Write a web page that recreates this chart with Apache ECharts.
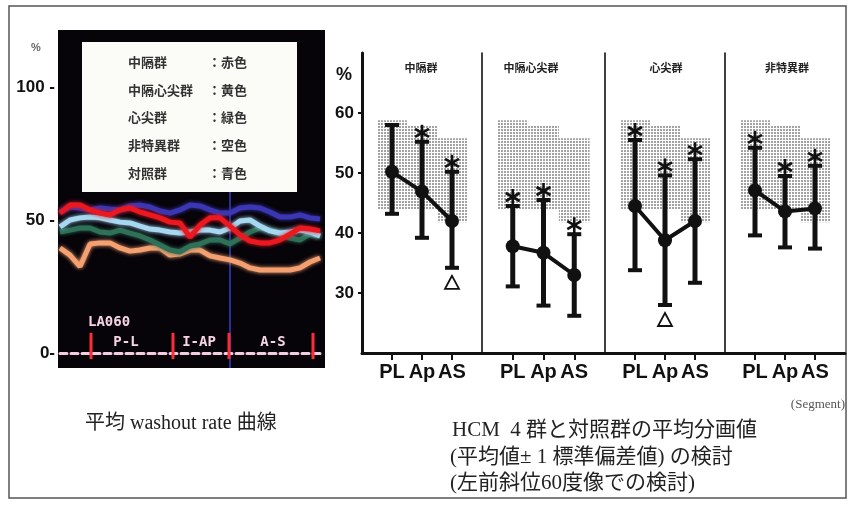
<!DOCTYPE html>
<html><head><meta charset="utf-8">
<script src="https://cdn.jsdelivr.net/npm/echarts@6/dist/echarts.min.js"></script>
<style>html,body{margin:0;padding:0;background:#fff}#c{width:856px;height:507px}</style>
</head><body><div id="c"></div>
<script>
// ---------- Left panel: mean washout rate curves (%) ----------
const sampleIdx = ['1','2','3','4','5','6','7','8','9','10','11','12','13','14','15','16','17','18','19','20','21','22','23','24','25','26','27'];
const septalRed      = [52.6,55.6,55.6,53.8,52.6,51.9,53.8,54.5,53.0,51.9,50.8,49.2,48.9,43.5,48.1,50.8,50.8,47.7,44.4,42.1,41.4,41.4,42.5,44.7,47.0,46.6,45.9];
const septApicalYel  = [39.5,36.8,32.5,41.0,41.4,41.4,39.5,38.3,38.7,39.5,39.5,36.8,37.2,38.7,38.7,36.5,35.7,35.0,33.8,32.0,31.2,31.2,31.2,31.2,32.0,34.2,35.7];
const apicalGreen    = [45.5,46.2,47.0,47.0,45.5,45.1,46.2,45.1,44.0,42.5,40.6,38.7,38.0,40.2,41.0,42.5,42.5,41.0,43.2,45.5,47.0,46.2,44.7,43.2,42.5,44.7,44.0];
const nonspecSky     = [47.4,50.0,50.8,51.1,50.8,50.0,49.2,48.9,47.7,46.6,46.2,45.5,45.1,45.5,46.2,46.2,45.5,47.0,49.6,50.0,47.7,45.9,45.1,45.5,46.2,45.5,44.0];
const controlBlue    = [53.0,54.9,54.5,53.8,54.5,54.1,53.8,55.3,55.6,54.9,53.4,52.6,53.8,55.6,55.3,53.8,52.6,52.6,54.5,54.9,54.5,53.0,51.1,51.1,51.9,50.8,50.4];
const leftTicks = [0, 50, 100];
const legendNames  = ['中隔群','中隔心尖群','心尖群','非特異群','対照群'];
const legendColors = ['赤色','黄色','緑色','空色','青色'];
const regionLabels = ['P-L','I-AP','A-S'];

// ---------- Right panel: segment means ± 1SD (%) ----------
const groups   = ['中隔群','中隔心尖群','心尖群','非特異群'];
const segments = ['PL','Ap','AS'];
const means = [[50.2,46.9,42.0],[37.8,36.7,33.0],[44.5,38.8,42.0],[47.1,43.6,44.1]];
const lows  = [[43.2,39.2,34.2],[31.1,27.9,26.2],[33.8,28.0,31.7],[39.6,37.6,37.4]];
const highs = [[58.0,55.2,50.2],[44.5,45.5,39.8],[55.5,49.6,52.3],[54.2,49.5,51.2]];
const stars = [[0,1,1],[1,1,1],[1,1,1],[1,1,1]];
const tris  = [[0,0,1],[0,0,0],[0,1,0],[0,0,0]];
const ctrlLow  = [44.0,44.0,41.8];
const ctrlHigh = [58.8,58.0,55.8];
const rightTicks = [30,40,50,60];

const chart = echarts.init(document.getElementById('c'));

const pc = document.createElement('canvas'); pc.width = 3; pc.height = 3;
const g2 = pc.getContext('2d'); g2.fillStyle = '#fff'; g2.fillRect(0,0,3,3);
g2.fillStyle = '#a2a2a2'; g2.fillRect(0,0,2,2);
const dotPattern = {image: pc, repeat: 'repeat'};

function errRender(params, api){
  const x = api.value(0), lo = api.value(1), hi = api.value(2), st = api.value(3), tr = api.value(4);
  const a = api.coord([x, lo]), b = api.coord([x, hi]);
  const ch = [
    {type:'line', shape:{x1:a[0],y1:a[1],x2:b[0],y2:b[1]}, style:{stroke:'#111',lineWidth:5}},
    {type:'line', shape:{x1:a[0]-7,y1:a[1],x2:a[0]+7,y2:a[1]}, style:{stroke:'#111',lineWidth:4}},
    {type:'line', shape:{x1:b[0]-7,y1:b[1],x2:b[0]+7,y2:b[1]}, style:{stroke:'#111',lineWidth:4}}
  ];
  if (st) {
    const cx = b[0], cy = b[1]-9, r = 8;
    ch.push({type:'line', shape:{x1:cx,y1:cy-r,x2:cx,y2:cy+r}, style:{stroke:'#111',lineWidth:2.6}});
    ch.push({type:'line', shape:{x1:cx-r*0.87,y1:cy-r*0.5,x2:cx+r*0.87,y2:cy+r*0.5}, style:{stroke:'#111',lineWidth:2.6}});
    ch.push({type:'line', shape:{x1:cx-r*0.87,y1:cy+r*0.5,x2:cx+r*0.87,y2:cy-r*0.5}, style:{stroke:'#111',lineWidth:2.6}});
  }
  if (tr) {
    const cx = a[0], cy = a[1]+15;
    ch.push({type:'polygon', shape:{points:[[cx,cy-7],[cx-7,cy+6],[cx+7,cy+6]]}, style:{fill:'#fff',stroke:'#111',lineWidth:1.8}});
  }
  return {type:'group', children: ch};
}
function shadeRender(params, api){
  const x = api.value(0);
  const p1 = api.coord([x-0.5, api.value(2)]), p2 = api.coord([x+0.5, api.value(1)]);
  return {type:'rect', shape:{x:p1[0], y:p1[1], width:p2[0]-p1[0], height:p2[1]-p1[1]}, style:{fill: dotPattern}};
}

const grids = [{left:60, top:87, width:260, height:266}];
const px = [362,482,605,725], pw = [120,123,120,120];
for (let i=0;i<4;i++) grids.push({left:px[i], top:53, width:pw[i], height:300});

const xAxes = [{
  type:'category', gridIndex:0, data:sampleIdx, boundaryGap:false,
  axisLine:{show:true, lineStyle:{color:'#f3cde0', width:3, type:[7,4]}},
  axisTick:{show:false}, axisLabel:{show:false}, splitLine:{show:false}
}];
const yAxes = [{
  type:'value', gridIndex:0, min:0, max:100, interval:50,
  axisLine:{show:false}, axisTick:{show:false}, splitLine:{show:false},
  axisLabel:{margin:5, color:'#111', fontSize:17, fontWeight:'bold', fontFamily:'Arial',
    formatter: v => leftTicks.indexOf(v) < 0 ? '' : (v === 0 ? '0-' : v + ' -')}
}];
for (let i=0;i<4;i++){
  xAxes.push({type:'value', gridIndex:i+1, min:0, max:4, interval:1,
    axisLine:{show:true, onZero:false, lineStyle:{color:'#111', width:3}},
    axisTick:{show:true, customValues:[1,2,3], length:7, lineStyle:{color:'#111', width:2}},
    axisLabel:{show:true, customValues:[1,2,3], margin:9, color:'#111', fontSize:20, fontWeight:'bold', fontFamily:'Arial',
      formatter: v => segments[v-1] || ''},
    splitLine:{show:false}});
  yAxes.push({type:'value', gridIndex:i+1, min:20, max:70, interval:10,
    axisLine:{show:true, lineStyle:{color:'#111', width: i===0 ? 3 : 1.6}},
    axisTick:{show:i===0, customValues:rightTicks, length:4, lineStyle:{color:'#111', width:2}},
    axisLabel:{show:i===0, customValues:rightTicks, margin:8, color:'#111', fontSize:17, fontWeight:'bold', fontFamily:'Arial'},
    splitLine:{show:false}});
}

const series = [];
const curveDefs = [
  [septApicalYel, '#f4a070'],
  [apicalGreen, '#2e7058'],
  [nonspecSky, '#a6d8f2'],
  [controlBlue, '#3b36b4'],
  [septalRed, '#ec1820']
];
curveDefs.forEach(([d,c]) => series.push({type:'line', xAxisIndex:0, yAxisIndex:0, data:d, showSymbol:false,
  lineStyle:{color:c, width:5, shadowColor:c, shadowBlur:4}, itemStyle:{color:c}, silent:true, z:3}));

for (let i=0;i<4;i++){
  series.push({type:'custom', xAxisIndex:i+1, yAxisIndex:i+1, z:1, silent:true,
    data: segments.map((s,k)=>[k+1, ctrlLow[k], ctrlHigh[k]]), renderItem: shadeRender});
  series.push({type:'custom', xAxisIndex:i+1, yAxisIndex:i+1, z:3, silent:true,
    data: segments.map((s,k)=>[k+1, lows[i][k], highs[i][k], stars[i][k], tris[i][k]]), renderItem: errRender});
  series.push({type:'line', xAxisIndex:i+1, yAxisIndex:i+1, z:4, silent:true,
    data: segments.map((s,k)=>[k+1, means[i][k]]), symbol:'circle', symbolSize:14,
    lineStyle:{color:'#111', width:4}, itemStyle:{color:'#111'}});
}

const cjk = "'Noto Sans CJK JP'";
const serif = "'Liberation Serif','Noto Sans CJK JP'";
const graphic = [
  {type:'rect', z:-10, shape:{x:9,y:6,width:837,height:492}, style:{fill:'none', stroke:'#555', lineWidth:1.5}},
  {type:'rect', z:-5, shape:{x:58,y:30,width:267,height:338}, style:{fill:'#060309'}},
  {type:'rect', z:-4, shape:{x:82,y:42,width:215,height:150}, style:{fill:'#fbfbf7'}},
  {type:'line', z:-3, shape:{x1:230,y1:192,x2:230,y2:368}, style:{stroke:'#3440c8', lineWidth:1.5}},
  {type:'text', style:{text:'%', x:36, y:48, fill:'#666', font:'bold 11px Arial', align:'center', verticalAlign:'middle'}},
  {type:'text', style:{text:'%', x:344, y:75, fill:'#111', font:'bold 18px Arial', align:'center', verticalAlign:'middle'}},
  {type:'text', style:{text:'LA060', x:88, y:322, fill:'#f6d4e4', font:'bold 14px "DejaVu Sans Mono"', align:'left', verticalAlign:'middle'}},
  {type:'text', style:{text:'(Segment)', x:845, y:405, fill:'#555', font:'13px "Liberation Serif"', align:'right', verticalAlign:'middle'}},
  {type:'text', style:{text:'平均 washout rate 曲線', x:85, y:424, fill:'#222', font:'20px ' + serif, align:'left', verticalAlign:'middle'}},
  {type:'text', style:{text:'HCM  4 群と対照群の平均分画値', x:452, y:430, fill:'#222', font:'21px ' + serif, align:'left', verticalAlign:'middle'}},
  {type:'text', style:{text:'(平均値± 1 標準偏差値) の検討', x:450, y:457, fill:'#222', font:'21px ' + serif, align:'left', verticalAlign:'middle'}},
  {type:'text', style:{text:'(左前斜位60度像での検討)', x:450, y:483, fill:'#222', font:'21px ' + serif, align:'left', verticalAlign:'middle'}}
];
const legY = [62, 90, 117, 145, 173];
legendNames.forEach((n,i)=>{
  graphic.push({type:'text', style:{text:n, x:128, y:legY[i], fill:'#333', font:'bold 13px ' + cjk, align:'left', verticalAlign:'middle'}});
  graphic.push({type:'text', style:{text:'：' + legendColors[i], x:208, y:legY[i], fill:'#333', font:'bold 13px ' + cjk, align:'left', verticalAlign:'middle'}});
});
[91,173,229,313].forEach(x=>graphic.push({type:'line', z:5, shape:{x1:x,y1:333,x2:x,y2:359}, style:{stroke:'#ff2a3a', lineWidth:3}}));
const regX = [126,199,273];
regionLabels.forEach((t,i)=>graphic.push({type:'text', style:{text:t, x:regX[i], y:342, fill:'#f6d4e4', font:'bold 14px "DejaVu Sans Mono"', align:'center', verticalAlign:'middle'}}));
const titleX = [421,531,666,787];
groups.forEach((g,i)=>graphic.push({type:'text', style:{text:g, x:titleX[i], y:68, fill:'#222', font:'bold 11px ' + cjk, align:'center', verticalAlign:'middle'}}));

chart.setOption({
  animation:false,
  backgroundColor:'#fff',
  grid: grids, xAxis: xAxes, yAxis: yAxes, series: series, graphic: graphic
});
</script></body></html>
